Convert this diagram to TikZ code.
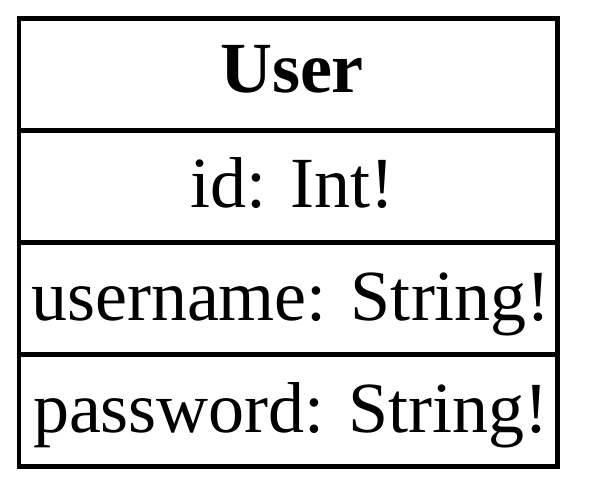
\documentclass[tikz,border=0pt]{standalone}
\usepackage{fontspec}
\setmainfont{Liberation Serif}
\begin{document}
\begin{tikzpicture}[x=1pt,y=-1pt,
  rowline/.style={line width=4.5pt,draw=black},
  celltext/.style={anchor=base,inner sep=0pt,font=\fontsize{72}{86}\selectfont}]
\useasboundingbox (0,0) rectangle (602,502);
\coordinate (tl) at (19,18.5);
\coordinate (br) at (557.5,466.5);
\coordinate (d1l) at (19,130.5); \coordinate (d1r) at (557.5,130.5);
\coordinate (d2l) at (19,242.5); \coordinate (d2r) at (557.5,242.5);
\coordinate (d3l) at (19,354.5); \coordinate (d3r) at (557.5,354.5);
\draw[rowline] (d1l) -- (d1r);
\draw[rowline] (d2l) -- (d2r);
\draw[rowline] (d3l) -- (d3r);
\draw[rowline] (tl) rectangle (br);
\node[celltext,font=\fontsize{72}{86}\selectfont\bfseries] (title) at (292,93) {User};
\node[celltext] (id) at (292,208) {id: Int!};
\node[celltext] (username) at (291,321) {username: String!};
\node[celltext] (password) at (291,432) {password: String!};
\end{tikzpicture}
\end{document}
